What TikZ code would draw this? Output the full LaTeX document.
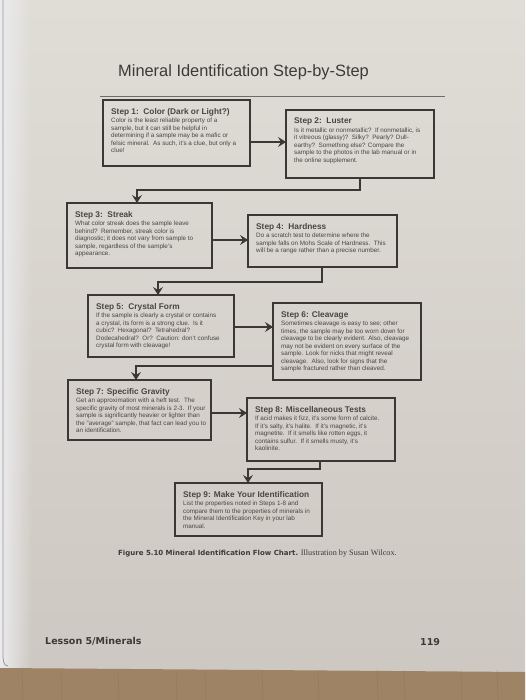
\documentclass[tikz,border=0pt]{standalone}
\usepackage{fontspec}
\setmainfont{Liberation Sans}
\newfontfamily\verd{DejaVu Sans}
\newfontfamily\tnr{Liberation Serif}
\usetikzlibrary{arrows.meta,fit,fadings}
\definecolor{pagetop}{RGB}{224,221,215}
\definecolor{pagebot}{RGB}{204,199,192}
\definecolor{edgew}{RGB}{236,236,238}
\definecolor{edgel}{RGB}{150,150,152}
\definecolor{wood}{RGB}{158,132,100}
\definecolor{woodd}{RGB}{135,110,82}
\definecolor{ink}{RGB}{58,55,53}
\definecolor{textc}{RGB}{72,69,67}
\definecolor{titlec}{RGB}{60,58,57}
\definecolor{rulec}{RGB}{110,108,105}
\tikzfading[name=fadeleft, left color=transparent!0, right color=transparent!100]
\tikzset{
  box/.style={draw=ink, line width=1.3pt, inner sep=0pt, outer sep=0pt},
  txt/.style={anchor=north west, inner sep=0pt, align=left, text=textc,
    font=\fontsize{6.3}{7.5}\selectfont},
  link/.style={draw=ink, line width=1.2pt},
  arr/.style={link, -{Stealth[length=8pt,width=10pt,inset=3pt]}},
}
\newcommand\mkstep[7]{%
  \node[box, fit={(#2,#3)(#4,#5)}] (#1) {};
  \node[txt] (#1t) at ([shift={(8,8)}]#1.north west)
    {{\fontsize{8.3}{9}\selectfont\bfseries #6}\\[1pt] #7};
}
\begin{document}
\begin{tikzpicture}[x=1pt,y=-1pt]
\useasboundingbox (0,0) rectangle (525,700);
% photo background
\fill[top color=pagetop, bottom color=pagebot] (0,0) rectangle (525,700);
\fill[edgew, path fading=fadeleft] (0,0) rectangle (32,668);
\draw[edgel, line width=0.8pt] (3,0) -- (3,655) to[out=-90,in=180] (8,666);
\fill[wood] (0,668) -- (525,672) -- (525,700) -- (0,700) -- cycle;
\foreach \xx in {22,61,118,176,205,262,318,377,404,461,497}
  \draw[woodd, line width=0.5pt, opacity=0.45] (\xx,670) -- (\xx+1,700);
% title
\node[anchor=base west, inner sep=0pt, text=titlec,
  font=\fontsize{16.4}{20}\selectfont] (title) at (118,77)
  {Mineral Identification Step-by-Step};
\draw[rulec, line width=1pt] (100,97) -- (445,97);

\mkstep{s1}{103}{100}{250}{166}{Step 1:\ \ Color (Dark or Light?)}
 {Color is the least reliable property of a\\
  sample, but it can still be helpful in\\
  determining if a sample may be a mafic or\\
  felsic mineral.\ \ As such, it's a clue, but only a\\
  clue!}
\mkstep{s2}{286}{110}{434}{178}{Step 2:\ \ Luster}
 {Is it metallic or nonmetallic?\ \ If nonmetallic, is\\
  it vitreous (glassy)?\ \ Silky?\ \ Pearly? Dull-\\
  earthy?\ \ Something else? Compare the\\
  sample to the photos in the lab manual or in\\
  the online supplement.}
\mkstep{s3}{67}{203}{212}{268}{Step 3:\ \ Streak}
 {What color streak does the sample leave\\
  behind?\ \ Remember, streak color is\\
  diagnostic; it does not vary from sample to\\
  sample, regardless of the sample's\\
  appearance.}
\mkstep{s4}{248}{215}{397}{267}{Step 4:\ \ Hardness}
 {Do a scratch test to determine where the\\
  sample falls on Mohs Scale of Hardness.\ \ This\\
  will be a range rather than a precise number.}
\mkstep{s5}{88}{295}{234}{357}{Step 5:\ \ Crystal Form}
 {If the sample is clearly a crystal or contains\\
  a crystal, its form is a strong clue.\ \ Is it\\
  cubic?\ \ Hexagonal?\ \ Tetrahedral?\\
  Dodecahedral?\ \ Or?\ \ Caution: don't confuse\\
  crystal form with cleavage!}
\mkstep{s6}{273}{303}{421}{380}{Step 6: Cleavage}
 {Sometimes cleavage is easy to see; other\\
  times, the sample may be too worn down for\\
  cleavage to be clearly evident. Also, cleavage\\
  may not be evident on every surface of the\\
  sample. Look for nicks that might reveal\\
  cleavage.\ \ Also, look for signs that the\\
  sample fractured rather than cleaved.}
\mkstep{s7}{68}{380}{211}{440}{Step 7: Specific Gravity}
 {Get an approximation with a heft test.\ \ The\\
  specific gravity of most minerals is 2-3.\ \ If your\\
  sample is significantly heavier or lighter than\\
  the "average" sample, that fact can lead you to\\
  an identification.}
\mkstep{s8}{247}{398}{395}{461}{Step 8: Miscellaneous Tests}
 {If acid makes it fizz, it's some form of calcite.\\
  If it's salty, it's halite.\ \ If it's magnetic, it's\\
  magnetite.\ \ If it smells like rotten eggs, it\\
  contains sulfur.\ \ If it smells musty, it's\\
  kaolinite.}
\mkstep{s9}{175}{483}{322}{536}{Step 9: Make Your Identification}
 {List the properties noted in Steps 1-8 and\\
  compare them to the properties of minerals in\\
  the Mineral Identification Key in your lab\\
  manual.}

% connectors
\coordinate (a1) at (0,142);
\draw[arr] (s1.east |- a1) -- (s2.west |- a1);
\coordinate (b1) at (360,190);
\coordinate (b2) at (137,190);
\draw[arr] (s2.south -| b1) -- (b1) -- (b2) -- (s3.north -| b2);
\coordinate (a2) at (0,240);
\draw[arr] (s3.east |- a2) -- (s4.west |- a2);
\coordinate (c1) at (322,282);
\coordinate (c2) at (158,282);
\draw[arr] (s4.south -| c1) -- (c1) -- (c2) -- (s5.north -| c2);
\coordinate (a3) at (0,327);
\draw[arr] (s5.east |- a3) -- (s6.west |- a3);
\coordinate (d1) at (136,366);
\draw[arr] (s6.west |- d1) -- (d1) -- (s7.north -| d1);
\coordinate (a4) at (0,413);
\draw[arr] (s7.east |- a4) -- (s8.west |- a4);
\coordinate (e1) at (320,469);
\coordinate (e2) at (248,469);
\draw[arr] (s8.south -| e1) -- (e1) -- (e2) -- (s9.north -| e2);

% caption and footer
\node[anchor=base west, inner sep=0pt, text=titlec] (cap) at (118,555)
  {{\verd\bfseries\fontsize{7}{8}\selectfont Figure 5.10 Mineral Identification Flow Chart.}\ {\tnr\fontsize{8.2}{9}\selectfont Illustration by Susan Wilcox.}};
\node[anchor=base west, inner sep=0pt, text=titlec,
  font=\verd\bfseries\fontsize{9.5}{11}\selectfont] (lesson) at (45,644) {Lesson 5/Minerals};
\node[anchor=base west, inner sep=0pt, text=titlec,
  font=\verd\bfseries\fontsize{9.5}{11}\selectfont] (page) at (420,645) {119};
\end{tikzpicture}
\end{document}
